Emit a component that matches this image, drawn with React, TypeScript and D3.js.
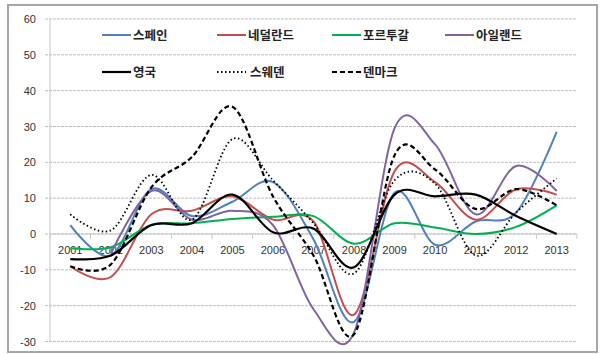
import React from "react";
import * as d3 from "d3";

const years = ["2001","2002","2003","2004","2005","2006","2007","2008","2009","2010","2011","2012","2013"];
const yTicks = [-30, -20, -10, 0, 10, 20, 30, 40, 50, 60];

const spain = [2.5, -6, 12.5, 5, 9, 14.5, -1.5, -24.5, 11.5, -3, 3.5, 6, 28.5];
const netherlands = [-9, -12, 5.5, 6.5, 10.5, 4, 3.5, -22.5, 17.5, 14.5, 4, 12.5, 11];
const portugal = [-4, -3.7, 2.5, 3, 4.2, 4.8, 5, -2.7, 3, 1.8, 0, 2, 8];
const ireland: (number | null)[] = [null, -5.5, 12, 4, 6.5, 2.5, -21, -27.5, 29.5, 25, 5.5, 19, 12];
const uk = [-7, -6, 2.5, 3, 11, 0.5, 1.5, -9.3, 11, 10.5, 11, 5, 0];
const sweden = [5.5, 1, 16.5, 4, 26.5, 15, 3, -11, 15, 14, -6, 6, 15.5];
const denmark = [-9, -8.5, 13, 21.5, 35.5, 10.5, -6, -28, 22, 18, 7, 12.5, 8];

const seriesNames = ["스페인", "네덜란드", "포르투갈", "아일랜드", "영국", "스웨덴", "덴마크"];
const seriesData = [spain, netherlands, portugal, ireland, uk, sweden, denmark];

const styles = [
  { color: "#4F81BD", width: 2, dash: "" },
  { color: "#C0504D", width: 2, dash: "" },
  { color: "#00B050", width: 2, dash: "" },
  { color: "#8064A2", width: 2, dash: "" },
  { color: "#000000", width: 2.2, dash: "" },
  { color: "#000000", width: 1.8, dash: "1.5 2.5" },
  { color: "#000000", width: 2.2, dash: "5 3" },
];
const legendPos = [
  { x: 102, y: 35 }, { x: 217, y: 35 }, { x: 332, y: 35 }, { x: 445, y: 35 },
  { x: 102, y: 72 }, { x: 217, y: 72 }, { x: 332, y: 72 },
];

export default function App() {
  const W = 601, H = 354;
  const left = 50, right = 577, top = 19, bottom = 341.5;
  const x = d3.scaleBand<string>().domain(years).range([left, right]);
  const y = d3.scaleLinear().domain([-30, 60]).range([bottom, top]);
  const cx = (i: number) => (x(years[i]) as number) + x.bandwidth() / 2;
  const line = d3
    .line<number | null>()
    .defined((d) => d !== null)
    .x((_, i) => cx(i))
    .y((d) => y(d as number))
    .curve(d3.curveCardinal.tension(0));
  const font = "'Liberation Sans', Arial, sans-serif";
  return (
    <div style={{ position: "absolute", left: 0, top: 0 }}>
      <svg width={W} height={H} style={{ display: "block", background: "#fff" }}>
        <rect x={8} y={5} width={589} height={347} fill="#fff" stroke="#A6A6A6" strokeWidth={2} />
        {yTicks.map((t) => (
          <g key={t}>
            <line x1={left - 5} x2={right} y1={y(t)} y2={y(t)} stroke="#BDBDBD" strokeWidth={1} strokeDasharray="3 1" />
            <text x={36} y={y(t) + 4} textAnchor="end" fontFamily={font} fontSize={11} fill="#333">{t}</text>
          </g>
        ))}
        <line x1={left} x2={left} y1={top} y2={bottom} stroke="#C8C8C8" strokeWidth={1} />
        <line x1={left} x2={right} y1={y(0)} y2={y(0)} stroke="#C8C8C8" strokeWidth={1} />
        {d3.range(years.length + 1).map((k) => {
          const xx = left + k * x.step();
          return <line key={k} x1={xx} x2={xx} y1={y(0)} y2={y(0) + 5} stroke="#C8C8C8" strokeWidth={1} />;
        })}
        {years.map((yr, i) => (
          <text key={yr} x={cx(i)} y={y(0) + 20} textAnchor="middle" fontFamily={font} fontSize={11} fill="#333">{yr}</text>
        ))}
        {seriesData.map((s, i) => (
          <path key={i} d={line(s) || ""} fill="none" stroke={styles[i].color} strokeWidth={styles[i].width}
            strokeDasharray={styles[i].dash} strokeLinejoin="round" />
        ))}
        {seriesNames.map((n, i) => (
          <g key={n}>
            <line x1={legendPos[i].x} x2={legendPos[i].x + 29} y1={legendPos[i].y} y2={legendPos[i].y}
              stroke={styles[i].color} strokeWidth={styles[i].width} strokeDasharray={styles[i].dash} />
            <text x={legendPos[i].x + (i === 5 ? 33 : 31)} y={legendPos[i].y + 5} fontFamily="'Noto Sans CJK KR', sans-serif"
              fontWeight="bold" fontSize={12.5} fill="#222">{n}</text>
          </g>
        ))}
      </svg>
    </div>
  );
}
